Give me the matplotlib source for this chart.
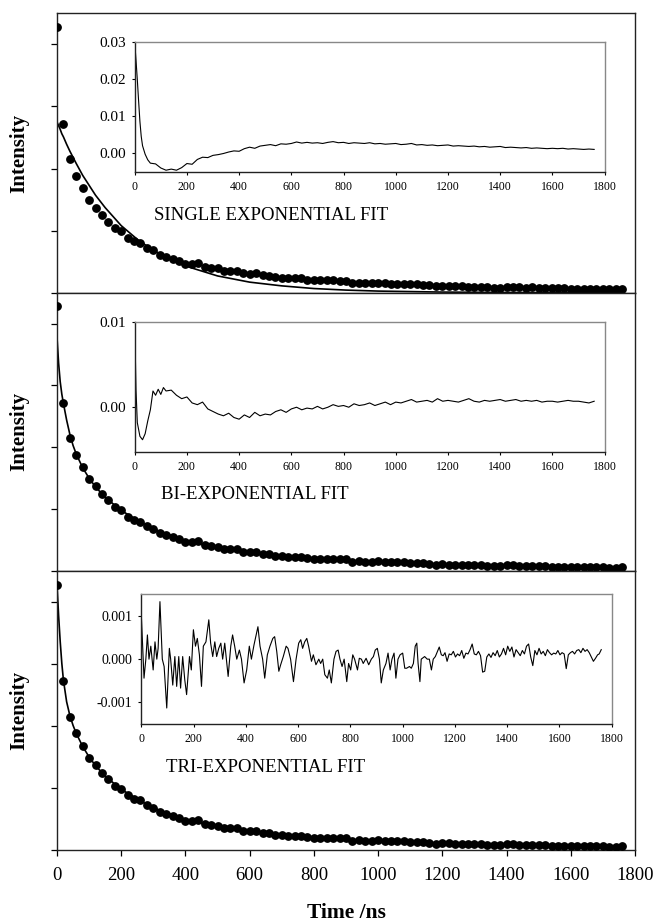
import numpy as np
import matplotlib
matplotlib.use("Agg")
import matplotlib.pyplot as plt

plt.rcParams['font.family'] = ['Liberation Serif', 'DejaVu Serif']

# decay data (same trace in all three panels), 20 ns channels
time = np.arange(0, 1761, 20)
intensity = [
    4.28, 2.72, 2.15, 1.88, 1.68, 1.49, 1.37, 1.25, 1.14, 1.04,
    0.99, 0.88, 0.83, 0.80, 0.72, 0.68, 0.61, 0.58, 0.55, 0.51,
    0.47, 0.47, 0.48, 0.42, 0.40, 0.39, 0.35, 0.35, 0.35, 0.31,
    0.30, 0.31, 0.28, 0.27, 0.25, 0.24, 0.23, 0.23, 0.23, 0.21,
    0.20, 0.20, 0.20, 0.20, 0.19, 0.19, 0.15, 0.16, 0.15, 0.15,
    0.16, 0.15, 0.14, 0.145, 0.14, 0.135, 0.135, 0.125, 0.12, 0.10,
    0.11, 0.105, 0.10, 0.10, 0.097, 0.09, 0.09, 0.086, 0.08, 0.08,
    0.097, 0.09, 0.086, 0.08, 0.086, 0.075, 0.075, 0.07, 0.07, 0.07,
    0.065, 0.065, 0.065, 0.06, 0.06, 0.06, 0.054, 0.054, 0.06,
]

# fitted curves
fit_time = [0, 5, 10, 15, 20, 30, 40, 50, 60, 80, 100, 120, 150, 200, 250,
            300, 400, 500, 600, 700, 800, 900, 1000, 1200, 1400, 1600, 1760]
single_fit = [2.75, 2.69, 2.63, 2.56, 2.51, 2.39, 2.28, 2.18, 2.08, 1.89, 1.73,
              1.57, 1.37, 1.08, 0.86, 0.68, 0.43, 0.27, 0.17, 0.11, 0.067,
              0.042, 0.026, 0.010, 0.004, 0.002, 0.001]
bi_fit = [3.78, 3.36, 3.06, 2.86, 2.71, 2.44, 2.21, 2.03, 1.89, 1.67, 1.50,
          1.36, 1.19, 0.98, 0.82, 0.68, 0.49, 0.37, 0.29, 0.24, 0.20,
          0.17, 0.15, 0.11, 0.09, 0.07, 0.06]
tri_fit = [4.28, 3.78, 3.36, 3.01, 2.74, 2.39, 2.17, 2.01, 1.88, 1.67, 1.50,
           1.36, 1.19, 0.98, 0.82, 0.68, 0.49, 0.37, 0.29, 0.24, 0.20,
           0.17, 0.15, 0.11, 0.09, 0.07, 0.06]

# residuals (x 1e-3)
single_res_time = [0, 5, 10, 15, 20, 25, 30, 40, 50] + list(range(60, 1761, 20))
single_res = [
    30, 25, 19.8, 14, 8.5, 4.5, 2.0, -0.3, -1.8,
    -2.7, -2.9, -4.0, -4.6, -4.3, -4.6, -3.9, -2.8, -3.0, -1.7,
    -1.1, -1.2, -0.6, -0.4, -0.1, 0.3, 0.6, 0.5, 1.2, 1.6,
    1.3, 1.9, 2.1, 2.3, 2.0, 2.5, 2.4, 2.6, 3.0, 2.7,
    2.9, 2.7, 2.8, 2.6, 2.9, 3.1, 2.8, 2.9, 2.6, 2.8,
    2.7, 2.6, 2.8, 2.5, 2.6, 2.4, 2.5, 2.6, 2.3, 2.4,
    2.6, 2.2, 2.3, 2.1, 2.2, 2.0, 2.1, 2.2, 1.9, 2.0,
    1.9, 1.8, 1.9, 1.7, 1.8, 1.6, 1.7, 1.8, 1.5, 1.6,
    1.5, 1.4, 1.5, 1.3, 1.4, 1.3, 1.2, 1.3, 1.2, 1.3,
    1.1, 1.2, 1.1, 1.0, 1.1, 1.0,
]

bi_res_time = [0, 5, 10, 20, 30, 40, 50, 60, 70, 80, 90, 100, 110] + list(range(120, 1761, 20))
bi_res = [
    10, 2.0, -1.8, -3.4, -3.8, -3.1, -1.6, -0.3, 1.9, 1.4, 2.1, 1.5, 2.3,
    1.9, 2.0, 1.4, 1.0, 1.2, 0.5, 0.3, 0.6, -0.2, -0.5,
    -0.8, -1.0, -0.7, -1.2, -1.4, -0.9, -1.2, -0.6, -1.0, -0.8,
    -0.9, -0.5, -0.3, -0.6, -0.2, 0.0, -0.3, -0.1, -0.2, 0.1,
    -0.2, 0.0, 0.3, 0.1, 0.2, 0.0, 0.4, 0.2, 0.3, 0.5,
    0.2, 0.4, 0.6, 0.3, 0.6, 0.5, 0.7, 0.9, 0.6, 0.7,
    0.8, 0.6, 1.0, 0.7, 0.8, 0.7, 0.6, 0.8, 1.0, 0.7,
    0.6, 0.8, 0.7, 0.8, 0.9, 0.7, 0.8, 0.9, 0.7, 0.8,
    0.7, 0.8, 0.6, 0.7, 0.7, 0.6, 0.7, 0.8, 0.7, 0.7,
    0.6, 0.5, 0.7,
]

tri_res_time = [
    0, 10, 17, 23, 29, 36, 45, 52, 59, 64, 71, 80, 87, 97, 107, 112, 120, 128,
    135, 143, 150, 158, 166, 173, 184, 191, 199, 207, 214, 222, 230, 237, 247,
    258, 265, 273, 281, 288, 296, 304, 311, 319, 332, 342, 349, 357, 365, 375,
    383, 393, 403, 413, 421, 431, 439, 446, 454, 464, 472, 482, 492, 503, 510,
    518, 526, 533, 543, 554, 561, 571, 582, 592, 602, 610, 617, 625, 633, 640,
    651, 658, 668, 679, 686, 694, 702, 712, 719, 727, 737, 745, 753, 760, 768,
    776, 786, 793, 801, 809, 816, 827, 834, 842, 849, 860, 870, 880, 888, 895,
    903, 911, 918, 926, 936, 944, 952, 959, 967, 974, 982, 990, 1000, 1008,
    1015, 1026, 1033, 1041, 1048, 1054, 1059, 1066, 1071, 1084, 1094, 1102,
    1110, 1117, 1125, 1140, 1148, 1155, 1162, 1170, 1178, 1186, 1194, 1202,
    1210, 1218, 1226, 1234, 1242, 1250, 1258, 1266, 1274, 1282, 1290, 1298,
    1306, 1314, 1322, 1330, 1338, 1346, 1354, 1362, 1370, 1378, 1386, 1394,
    1402, 1410, 1418, 1426, 1434, 1442, 1450, 1458, 1466, 1474, 1482, 1490,
    1498, 1506, 1514, 1522, 1530, 1538, 1546, 1554, 1562, 1570, 1578, 1586,
    1594, 1602, 1610, 1618, 1626, 1634, 1642, 1650, 1658, 1666, 1674, 1682,
    1690, 1698, 1706, 1714, 1722, 1730, 1738, 1746, 1752, 1760,
]
tri_res = [
    0.98, -0.44, 0.0, 0.56, 0.0, 0.30, -0.25, 0.40, 0.0, 0.25, 1.33, 0.0, -0.17,
    -1.13, 0.25, 0.0, -0.60, 0.06, -0.63, 0.06, -0.67, 0.06, -0.48, -0.82, 0.06,
    -0.25, 0.68, 0.30, 0.48, 0.10, -0.63, 0.30, 0.40, 0.91, 0.37, 0.06, 0.40,
    0.06, 0.25, 0.37, 0.0, 0.37, -0.40, 0.30, 0.56, 0.30, 0.0, 0.21, 0.0, -0.55,
    -0.25, 0.30, 0.0, 0.33, 0.56, 0.75, 0.30, 0.0, -0.44, 0.10, 0.30, 0.48,
    0.52, 0.18, -0.28, -0.13, 0.06, 0.30, 0.25, 0.0, -0.52, 0.0, 0.37, 0.45,
    0.25, 0.40, 0.48, 0.30, -0.05, 0.10, -0.13, 0.0, -0.10, 0.0, -0.36, -0.44,
    -0.25, -0.55, 0.0, 0.18, 0.21, 0.0, -0.17, 0.0, -0.52, -0.10, -0.25, 0.10,
    0.0, -0.25, 0.02, 0.0, -0.10, 0.02, -0.13, 0.0, 0.06, 0.21, 0.25, 0.0,
    -0.55, -0.25, -0.10, 0.14, -0.25, 0.0, 0.14, -0.44, 0.0, 0.10, 0.14, -0.21,
    -0.21, -0.17, -0.21, -0.10, 0.30, 0.37, -0.10, -0.52, 0.0, 0.06, 0.0, 0.0,
    -0.25, 0.0, 0.06, 0.28, 0.10, 0.08, 0.15, -0.05, 0.12, 0.10, 0.18, 0.05,
    0.12, 0.08, 0.20, 0.02, 0.14, 0.12, 0.22, 0.35, 0.12, 0.10, 0.18, 0.08,
    -0.30, -0.28, 0.05, 0.12, 0.04, 0.15, 0.08, 0.20, 0.05, 0.12, 0.25, 0.10,
    0.30, 0.18, 0.28, 0.05, 0.22, 0.15, 0.08, 0.20, 0.12, 0.30, 0.35, 0.05,
    -0.15, 0.20, 0.10, 0.25, 0.12, 0.18, 0.08, 0.22, 0.15, 0.10, 0.14, 0.12,
    0.20, 0.10, 0.15, 0.12, -0.22, 0.10, 0.15, 0.18, 0.12, 0.20, 0.22, 0.15,
    0.25, 0.18, 0.22, 0.15, 0.05, -0.05, 0.02, 0.10, 0.12, 0.22,
]

titles = ["SINGLE EXPONENTIAL FIT", "BI-EXPONENTIAL FIT", "TRI-EXPONENTIAL FIT"]
fits = [single_fit, bi_fit, tri_fit]
residuals = [(single_res_time, single_res), (bi_res_time, bi_res), (tri_res_time, tri_res)]

W, H = 654, 923
fig = plt.figure(figsize=(W / 100, H / 100), dpi=100)

def fx(px):
    return px / W

def fy(py):
    return 1 - py / H

# main panels: (top px, bottom px)
panels = [(13.3, 292.7), (292.7, 571.0), (571.0, 850.0)]
# insets: (left, right, top, bottom) px, ylim, yticks, ytick labels, label size
insets = [
    ((134.7, 604.6, 41.7, 171.7), (-0.005, 0.03), [0.0, 0.01, 0.02, 0.03], ["0.00", "0.01", "0.02", "0.03"], 11),
    ((134.7, 604.6, 321.7, 451.7), (-0.0052, 0.01), [0.0, 0.01], ["0.00", "0.01"], 11),
    ((141.4, 611.7, 594.3, 724.0), (-0.0015, 0.0015), [-0.001, 0.0, 0.001], ["-0.001", "0.000", "0.001"], 10),
]
title_pos = [(154, 215), (161, 495), (166.5, 768)]

left, right = 57, 635
for i, (top, bot) in enumerate(panels):
    ax = fig.add_axes([fx(left), fy(bot), fx(right - left), (bot - top) / H])
    ax.plot(fit_time, fits[i], color="black", lw=1.2, zorder=2)
    ax.plot(time, intensity, "o", color="black", ms=5.3, zorder=3)
    ax.set_xlim(0, 1800)
    ax.set_ylim(0, 4.5)
    ax.set_yticks([0, 1, 2, 3, 4])
    ax.set_yticklabels([])
    ax.tick_params(axis="y", direction="out", length=4.5, width=0.9)
    for s in ax.spines.values():
        s.set_color("#222222")
        s.set_linewidth(1.0)
    if i < 2:
        ax.set_xticks([])
    else:
        ax.set_xticks(range(0, 1801, 200))
        ax.tick_params(axis="x", direction="out", length=4, width=0.9,
                       labelsize=13.5, pad=8)
    fig.text(0.029, fy((top + bot) / 2), "Intensity", rotation=90,
             ha="center", va="center", fontsize=15, fontweight="bold")

    (l, r, t, b), ylim, yt, ytl, ysize = insets[i]
    ins = fig.add_axes([fx(l), fy(b), fx(r - l), (b - t) / H])
    rt, rv = residuals[i]
    ins.plot(rt, np.array(rv) * 1e-3, color="black", lw=0.8)
    ins.set_xlim(0, 1800)
    ins.set_ylim(*ylim)
    ins.set_xticks(range(0, 1801, 200))
    ins.set_yticks(yt)
    ins.set_yticklabels(ytl)
    ins.tick_params(axis="x", direction="out", length=2.5, width=0.8,
                    labelsize=8.5, pad=4)
    ins.tick_params(axis="y", direction="out", length=2.5, width=0.8,
                    labelsize=ysize, pad=4)
    ins.spines["top"].set_color("#888888")
    ins.spines["right"].set_color("#888888")
    ins.spines["left"].set_color("#222222")
    ins.spines["bottom"].set_color("#222222")
    for s in ins.spines.values():
        s.set_linewidth(1.0)

    tx, ty = title_pos[i]
    fig.text(fx(tx), fy(ty), titles[i], ha="left", va="center", fontsize=13.5)

fig.text(fx((left + right) / 2), fy(913), "Time /ns", ha="center", va="center",
         fontsize=15.5, fontweight="bold")

fig.savefig("out.png", dpi=100)
